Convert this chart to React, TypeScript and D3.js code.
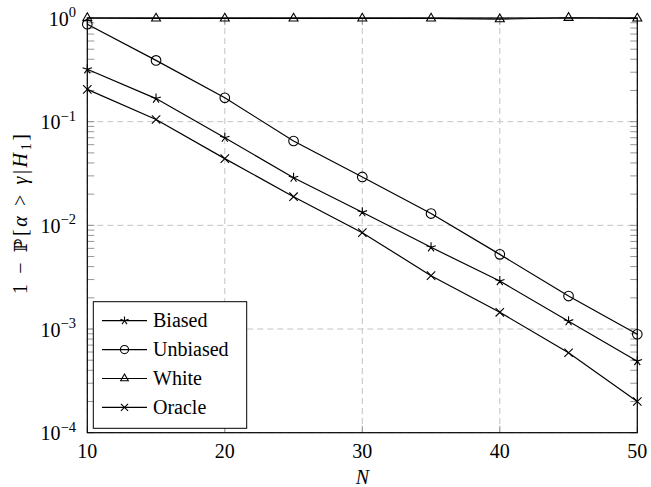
import * as d3 from 'd3';

const nValues = [10, 15, 20, 25, 30, 35, 40, 45, 50];
const biased = [0.32, 0.167, 0.070, 0.0288, 0.0134, 0.00614, 0.0029, 0.00119, 0.00049];
const unbiased = [0.87, 0.39, 0.170, 0.0651, 0.0293, 0.0130, 0.00525, 0.00208, 0.00089];
const white = [1.0, 0.99, 0.99, 0.99, 0.99, 0.99, 0.975, 1.005, 0.99];
const oracle = [0.205, 0.105, 0.044, 0.0189, 0.0085, 0.00327, 0.00145, 0.00059, 0.0002];
const xTicks = [10, 20, 30, 40, 50];
const yExponents = [0, -1, -2, -3, -4];

const W = 651;
const H = 487;
const margin = { left: 87.3, right: W - 637.3, top: 18, bottom: H - 432.7 };
const FONT = '"Liberation Serif", "DejaVu Serif", serif';

type Mark = 'star' | 'circle' | 'triangle' | 'cross';

const series: { name: string; values: number[]; mark: Mark }[] = [
  { name: 'Biased', values: biased, mark: 'star' },
  { name: 'Unbiased', values: unbiased, mark: 'circle' },
  { name: 'White', values: white, mark: 'triangle' },
  { name: 'Oracle', values: oracle, mark: 'cross' },
];

function Marker({ type, x, y, k = 1 }: { type: Mark; x: number; y: number; k?: number }) {
  const s = { fill: 'none', stroke: '#000', strokeWidth: 1.1 };
  if (type === 'circle') return <circle cx={x} cy={y} r={4.8 * k} {...s} />;
  if (type === 'triangle') {
    const r = 5.2 * k;
    const pts = [0, 1, 2]
      .map(i => {
        const a = -Math.PI / 2 + (i * 2 * Math.PI) / 3;
        return `${x + r * Math.cos(a)},${y + r * Math.sin(a)}`;
      })
      .join(' ');
    return <polygon points={pts} {...s} />;
  }
  if (type === 'cross') {
    const r = 4.2 * k;
    return (
      <path d={`M${x - r},${y - r}L${x + r},${y + r}M${x - r},${y + r}L${x + r},${y - r}`} {...s} />
    );
  }
  // star: five arms
  const r = 5 * k;
  let d = '';
  for (let i = 0; i < 5; i++) {
    const a = -Math.PI / 2 + (i * 2 * Math.PI) / 5;
    d += `M${x},${y}L${x + r * Math.cos(a)},${y + r * Math.sin(a)}`;
  }
  return <path d={d} {...s} />;
}

export default function App() {
  const x = d3.scaleLinear().domain([10, 50]).range([margin.left, W - margin.right]);
  const y = d3.scaleLog().domain([1e-4, 1]).range([H - margin.bottom, margin.top]);
  const x0 = x.range()[0];
  const x1 = x.range()[1];
  const yTop = y.range()[1];
  const yBot = y.range()[0];

  const line = d3
    .line<number>()
    .x((_, i) => x(nValues[i]))
    .y(d => y(d));

  const minorTicks: number[] = [];
  for (let e = -4; e < 0; e++) {
    for (let m = 2; m <= 9; m++) minorTicks.push(m * Math.pow(10, e));
  }

  const legend = { x: 93.3, y: 301.7, w: 153.4, h: 126.6, row: 28.9 };

  return (
    <svg
      width={W}
      height={H}
      style={{ position: 'absolute', left: 0, top: 0, background: '#fff' }}
      fontFamily={FONT}
    >
      <rect width={W} height={H} fill="#fff" />
      {/* grid */}
      <g stroke="#c4c4c4" strokeWidth={1} strokeDasharray="6,4">
        {xTicks.map(t => (
          <line key={'gx' + t} x1={x(t)} x2={x(t)} y1={yTop} y2={yBot} />
        ))}
        {yExponents.map(e => (
          <line key={'gy' + e} x1={x0} x2={x1} y1={y(Math.pow(10, e))} y2={y(Math.pow(10, e))} />
        ))}
      </g>
      {/* minor and major ticks */}
      <g stroke="#8a8a8a" strokeWidth={0.9}>
        {minorTicks.map((v, i) => (
          <g key={'mt' + i}>
            <line x1={x0} x2={x0 + 7} y1={y(v)} y2={y(v)} />
            <line x1={x1 - 7} x2={x1} y1={y(v)} y2={y(v)} />
          </g>
        ))}
        {xTicks.map(t => (
          <g key={'xt' + t}>
            <line x1={x(t)} x2={x(t)} y1={yBot} y2={yBot - 7} />
            <line x1={x(t)} x2={x(t)} y1={yTop} y2={yTop + 7} />
          </g>
        ))}
        {yExponents.map(e => (
          <g key={'yt' + e}>
            <line x1={x0} x2={x0 + 7} y1={y(Math.pow(10, e))} y2={y(Math.pow(10, e))} />
            <line x1={x1 - 7} x2={x1} y1={y(Math.pow(10, e))} y2={y(Math.pow(10, e))} />
          </g>
        ))}
      </g>
      {/* axis box */}
      <rect x={x0} y={yTop} width={x1 - x0} height={yBot - yTop} fill="none" stroke="#000" strokeWidth={1.2} />
      {/* series */}
      {series.map(s => (
        <g key={s.name}>
          <path d={line(s.values) || ''} fill="none" stroke="#000" strokeWidth={1.2} />
          {s.values.map((v, i) => (
            <Marker key={i} type={s.mark} x={x(nValues[i])} y={y(v)} />
          ))}
        </g>
      ))}
      {/* x tick labels */}
      {xTicks.map(t => (
        <text key={'xl' + t} x={x(t)} y={458} textAnchor="middle" fontSize={20} fill="#000">
          {t}
        </text>
      ))}
      {/* y tick labels */}
      {yExponents.map(e => (
        <text key={'yl' + e} x={76} y={y(Math.pow(10, e)) + 7.5} textAnchor="end" fontSize={20} fill="#000">
          <tspan>10</tspan>
          <tspan dy={-8.5} fontSize={14.5}>
            {e === 0 ? '0' : '\u2212' + Math.abs(e)}
          </tspan>
        </text>
      ))}
      {/* axis labels */}
      <text x={(x0 + x1) / 2} y={484} textAnchor="middle" fontSize={20} fontStyle="italic" fill="#000">
        N
      </text>
      <text
        transform={`translate(27,214) rotate(-90)`}
        textAnchor="middle"
        fontSize={20}
        fill="#000"
        textLength={160}
        lengthAdjust="spacing"
      >
        <tspan>1 − </tspan>
        <tspan fontFamily='"DejaVu Serif", "DejaVu Sans", serif' fontSize={18}>ℙ</tspan>
        <tspan>[</tspan>
        <tspan fontStyle="italic">α</tspan>
        <tspan> &gt; </tspan>
        <tspan fontStyle="italic">γ</tspan>
        <tspan>|</tspan>
        <tspan fontStyle="italic">H</tspan>
        <tspan fontSize={14} dy={4}>1</tspan>
        <tspan dy={-4}>]</tspan>
      </text>
      {/* legend */}
      <rect x={legend.x} y={legend.y} width={legend.w} height={legend.h} fill="#fff" stroke="#000" strokeWidth={1} />
      {series.map((s, i) => {
        const cy = legend.y + 19 + i * legend.row;
        return (
          <g key={'lg' + s.name}>
            <line x1={102} x2={147} y1={cy} y2={cy} stroke="#000" strokeWidth={1.2} />
            <Marker type={s.mark} x={124.5} y={cy} k={0.85} />
            <text x={153} y={cy + 6.5} fontSize={20} fill="#000">
              {s.name}
            </text>
          </g>
        );
      })}
    </svg>
  );
}
